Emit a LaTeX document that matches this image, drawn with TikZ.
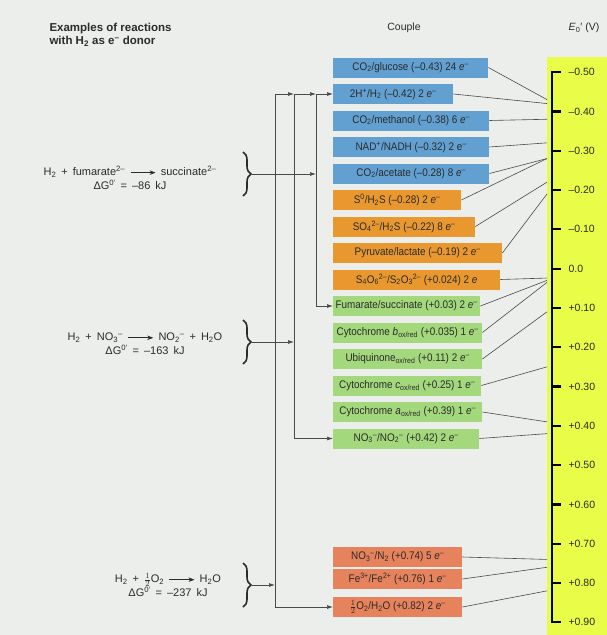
\documentclass[tikz,border=0pt]{standalone}
\usepackage{fontspec}
\setmainfont{Liberation Sans}
\newfontfamily\couplefont[FakeStretch=0.9]{Liberation Sans}
\usetikzlibrary{arrows.meta,decorations.pathreplacing}

\definecolor{paper}{HTML}{ECEEEC}
\definecolor{cblue}{HTML}{62A0D2}
\definecolor{corange}{HTML}{E8982E}
\definecolor{cgreen}{HTML}{A4D87C}
\definecolor{csalmon}{HTML}{E6825C}
\definecolor{cyellow}{HTML}{E8FC48}
\definecolor{ink}{HTML}{2B2B2B}
\definecolor{wire}{HTML}{4A4A4A}

% chemistry shorthands
\newcommand\sbs[1]{\textsubscript{#1}}
\newcommand\sps[1]{\textsuperscript{#1}}
\newcommand\elec{\textit{e}\textsuperscript{–}}
\newcommand\rxnarrow{\tikz[baseline=-3pt]\draw[line width=0.6pt,-{Stealth[length=6pt,width=4.5pt]}](0pt,0pt)--(25pt,0pt);}
% loosely spaced face for the reaction equations
\newcommand\rxnfont{\fontsize{11}{14}\selectfont\spaceskip=5pt plus 1pt\relax}

% one redox couple: name, fill, centre y, right edge x, label
\newcommand\couplebox[5]{\node[couple, fill=#2, minimum width={#4-333}] (#1) at (333,#3) {#5};}
% point on the potential scale for a given E0' (V)
\newcommand\potpoint[2]{\coordinate (#1) at (547,{268.6+393*(#2)});}

\tikzset{
  couple/.style={anchor=west, minimum height=20pt, inner sep=0pt, text=ink,
    font=\couplefont\fontsize{11}{13}\selectfont},
  rxn/.style={align=center, text=ink, font=\rxnfont},
  head/.style={text=ink, font=\fontsize{10.5}{12}\selectfont},
  feed/.style={draw=wire, line width=0.7pt, -{Latex[length=6pt,width=4pt]}},
  rail/.style={draw=wire, line width=0.7pt},
  tie/.style={draw=wire, line width=0.6pt},
  bracket/.style={draw=ink, line width=1.6pt, decorate, decoration={brace, amplitude=8pt}},
  scale axis/.style={draw=black, line width=2.2pt},
  ticklab/.style={anchor=west, text=ink, font=\fontsize{10.5}{12}\selectfont},
}

\begin{document}
\begin{tikzpicture}[x=1pt, y=-1pt]
\useasboundingbox (0,0) rectangle (607,635);
\fill[paper] (0,0) rectangle (607,635);

% yellow potential strip
\fill[cyellow] (547,57) rectangle (607,635);

% column headings
\node[head, anchor=north west, align=left, font=\bfseries\fontsize{11.5}{12.5}\selectfont] (hdex) at (46,20)
  {Examples of reactions\\with H\sbs{2} as e\sps{–} donor};
\node[head] (hdcouple) at (404,28) {Couple};
\node[head] (hdpot) at (584,28) {\textit{E}\sbs{0}′ (V)};

% redox couples
\couplebox{b1}{cblue}{67.5}{488}{CO\sbs{2}/glucose (–0.43) 24 \elec}
\couplebox{b2}{cblue}{94}{453}{2H\sps{+}/H\sbs{2} (–0.42) 2 \elec}
\couplebox{b3}{cblue}{120.5}{489}{CO\sbs{2}/methanol (–0.38) 6 \elec}
\couplebox{b4}{cblue}{147}{489}{NAD\sps{+}/NADH (–0.32) 2 e\sps{–}}
\couplebox{b5}{cblue}{173.5}{489}{CO\sbs{2}/acetate (–0.28) 8 \elec}
\couplebox{b6}{corange}{200}{461}{S\sps{0}/H\sbs{2}S (–0.28) 2 \elec}
\couplebox{b7}{corange}{226.5}{475}{SO\sbs{4}\sps{2–}/H\sbs{2}S (–0.22) 8 \elec}
\couplebox{b8}{corange}{253}{502}{Pyruvate/lactate (–0.19) 2 \elec}
\couplebox{b9}{corange}{279.5}{500}{S\sbs{4}O\sbs{6}\sps{2–}/S\sbs{2}O\sbs{3}\sps{2–} (+0.024) 2 \textit{e}}
\couplebox{b10}{cgreen}{306}{480}{Fumarate/succinate (+0.03) 2 \elec}
\couplebox{b11}{cgreen}{332.5}{482}{Cytochrome \textit{b}\sbs{ox/red} (+0.035) 1 \elec}
\couplebox{b12}{cgreen}{359}{482}{Ubiquinone\sbs{ox/red} (+0.11) 2 \elec}
\couplebox{b13}{cgreen}{385.5}{481}{Cytochrome \textit{c}\sbs{ox/red} (+0.25) 1 \elec}
\couplebox{b14}{cgreen}{412}{482}{Cytochrome \textit{a}\sbs{ox/red} (+0.39) 1 \elec}
\couplebox{b15}{cgreen}{438.5}{479}{NO\sbs{3}\sps{–}/NO\sbs{2}\sps{–} (+0.42) 2 \elec}
\couplebox{b16}{csalmon}{557}{462}{NO\sbs{3}\sps{–}/N\sbs{2} (+0.74) 5 \elec}
\couplebox{b17}{csalmon}{579}{462}{Fe\sps{3+}/Fe\sps{2+} (+0.76) 1 \elec}
\couplebox{b18}{csalmon}{607}{462}{$\frac{1}{2}$O\sbs{2}/H\sbs{2}O (+0.82) 2 \elec}

% where each couple sits on the scale
\potpoint{e1}{-0.43}
\potpoint{e2}{-0.42}
\potpoint{e3}{-0.38}
\potpoint{e4}{-0.32}
\potpoint{e5}{-0.28}
\potpoint{e6}{-0.28}
\potpoint{e7}{-0.22}
\potpoint{e8}{-0.19}
\potpoint{e9}{0.024}
\potpoint{e10}{0.03}
\potpoint{e11}{0.035}
\potpoint{e12}{0.11}
\potpoint{e13}{0.25}
\potpoint{e14}{0.39}
\potpoint{e15}{0.42}
\potpoint{e16}{0.74}
\potpoint{e17}{0.76}
\potpoint{e18}{0.82}
\foreach \i in {1,...,18} { \draw[tie] (b\i.east) -- (e\i); }

% potential scale
\draw[scale axis] (561,72) -- (552,72) -- (552,622) -- (561,622);
\foreach \v/\lab [count=\k] in {-0.5/{–0.50},-0.4/{–0.40},-0.3/{–0.30},-0.2/{–0.20},-0.1/{–0.10},
    0/{0.0},0.1/{+0.10},0.2/{+0.20},0.3/{+0.30},0.4/{+0.40},0.5/{+0.50},0.6/{+0.60},
    0.7/{+0.70},0.8/{+0.80},0.9/{+0.90}} {
  \draw[draw=black, line width=2.2pt] (552,{268.6+393*\v}) -- (561,{268.6+393*\v});
  \node[ticklab] (tk\k) at (565,{268.6+393*\v}) {\lab};
}

% H2-oxidising reactions
\node[rxn] (r1) at (130,178)
  {H\sbs{2} + fumarate\sps{2–} \rxnarrow\ succinate\sps{2–}\\ΔG\sps{0′} = –86 kJ};
\node[rxn] (r2) at (145,344)
  {H\sbs{2} + NO\sbs{3}\sps{–} \rxnarrow\ NO\sbs{2}\sps{–} + H\sbs{2}O\\ΔG\sps{0′} = –163 kJ};
\node[rxn] (r3) at (168,585)
  {H\sbs{2} + $\frac{1}{2}$O\sbs{2} \rxnarrow\ H\sbs{2}O\\ΔG\sps{0′} = –237 kJ};

\draw[bracket] (243,152) -- (243,196);
\draw[bracket] (243,320) -- (243,364);
\draw[bracket] (243,563) -- (243,607);
\coordinate (tip1) at (252,174);
\coordinate (tip2) at (252,342);
\coordinate (tip3) at (252,585);

% collecting rails from the reactions to the couples
\coordinate (v1top) at (275,94);
\coordinate (v2top) at (294,94);
\coordinate (v3top) at (316,94);
\coordinate (v1bot) at (275,607);
\coordinate (v2bot) at (294,438.5);
\coordinate (v3bot) at (316,306);
\coordinate (v1mid) at (275,585);
\coordinate (v2mid) at (294,342);
\coordinate (v3mid) at (316,174);

\draw[rail] (v1top) -- (v1bot);
\draw[rail] (v2top) -- (v2bot);
\draw[rail] (v3top) -- (v3bot);
\draw[feed] (v1top) -- (v2top);
\draw[feed] (v2top) -- (v3top);
\draw[feed] (v3top) -- (b2.west);
\draw[feed] (tip1) -- (v3mid);
\draw[feed] (tip2) -- (v2mid);
\draw[feed] (tip3) -- (v1mid);
\draw[feed] (v3bot) -- (b10.west);
\draw[feed] (v2bot) -- (b15.west);
\draw[feed] (v1bot) -- (b18.west);
\end{tikzpicture}
\end{document}
